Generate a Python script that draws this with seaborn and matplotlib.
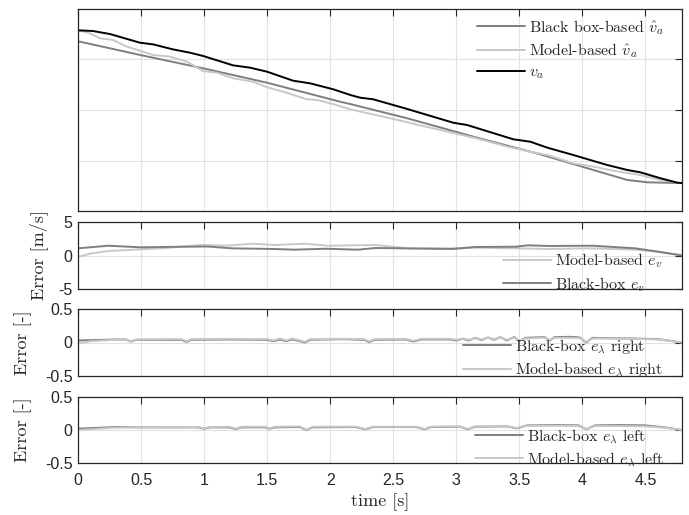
import matplotlib
matplotlib.use("Agg")
import matplotlib.pyplot as plt
import seaborn as sns
import numpy as np
from matplotlib.font_manager import FontProperties

# ---------------- data ----------------
t_va = [0.0, 0.016, 0.119, 0.254, 0.492, 0.595, 0.754, 0.889, 0.992, 1.23, 1.365, 1.5, 1.706,
        1.841, 2.024, 2.159, 2.238, 2.341, 2.611, 2.976, 3.087, 3.452, 3.587, 3.722, 3.929,
        4.198, 4.357, 4.46, 4.62, 4.754, 4.79]
v_a = [22.86, 22.88, 22.82, 22.52, 21.66, 21.5, 21.0, 20.67, 20.35, 19.42, 19.19, 18.79, 17.9,
       17.64, 17.05, 16.49, 16.22, 16.06, 15.1, 13.74, 13.51, 12.1, 11.86, 11.27, 10.54,
       9.55, 9.06, 8.83, 8.24, 7.8, 7.77]

t_bb = [0.0, 0.016, 0.492, 0.992, 1.5, 2.079, 2.159, 2.611, 3.135, 3.667, 4.087, 4.357, 4.516, 4.754, 4.79]
v_bb = [21.78, 21.76, 20.45, 19.13, 17.7, 15.82, 15.59, 14.18, 12.36, 10.61, 9.06, 8.07, 7.84, 7.77, 7.77]

t_mb = [0.0, 0.016, 0.095, 0.175, 0.278, 0.389, 0.492, 0.595, 0.73, 0.865, 0.992, 1.103, 1.23,
        1.389, 1.5, 1.627, 1.817, 1.897, 2.024, 2.159, 2.476, 2.873, 3.19, 3.405, 3.587, 3.722,
        3.929, 4.087, 4.246, 4.46, 4.595, 4.754, 4.79]
v_mb = [22.86, 22.85, 22.59, 22.1, 21.93, 21.27, 20.87, 20.45, 20.28, 19.78, 18.86, 18.69, 18.14,
        17.8, 17.25, 16.81, 16.06, 15.99, 15.59, 15.07, 14.18, 13.02, 12.1, 11.37, 10.87, 10.54,
        9.72, 9.39, 8.99, 8.56, 8.14, 7.8, 7.77]

t_ev_bb = [0, 0.24, 0.5, 0.77, 1.03, 1.22, 1.56, 1.72, 1.96, 2.22, 2.36, 2.97, 3.15, 3.47, 3.57,
           3.73, 4.08, 4.42, 4.6, 4.79]
ev_bb = [1.07, 1.46, 1.22, 1.3, 1.34, 1.07, 0.97, 0.87, 1.01, 0.87, 1.12, 0.97, 1.27, 1.31, 1.52,
         1.42, 1.46, 1.07, 0.57, 0.0]
t_ev_mb = [0, 0.11, 0.24, 0.5, 0.67, 0.98, 1.17, 1.38, 1.56, 1.8, 1.98, 2.36, 2.62, 2.97, 3.15,
           3.47, 3.73, 4.08, 4.42, 4.6, 4.79]
ev_mb = [-0.2, 0.33, 0.67, 0.93, 1.07, 1.57, 1.46, 1.76, 1.57, 1.76, 1.46, 1.57, 1.07, 1.07, 1.16,
         1.07, 0.97, 1.07, 0.87, 0.57, 0.05]

t_er = [0, 0.1, 0.3, 0.38, 0.42, 0.46, 0.7, 0.82, 0.86, 0.9, 1.2, 1.5, 1.55, 1.6, 1.65, 1.7, 1.76,
        1.8, 1.84, 2.1, 2.27, 2.31, 2.35, 2.6, 2.66, 2.72, 2.95, 3.0, 3.05, 3.1, 3.15, 3.2, 3.25,
        3.3, 3.35, 3.4, 3.46, 3.5, 3.55, 3.62, 3.7, 3.74, 3.78, 3.9, 3.98, 4.03, 4.08, 4.2, 4.4,
        4.6, 4.79]
er_bb = [0.03, 0.035, 0.045, 0.045, 0.015, 0.04, 0.04, 0.04, 0.01, 0.04, 0.045, 0.04, 0.02, 0.045,
         0.02, 0.045, 0.02, 0.0, 0.04, 0.05, 0.04, 0.005, 0.04, 0.045, 0.015, 0.045, 0.045, 0.03,
         0.055, 0.03, 0.07, 0.035, 0.075, 0.04, 0.08, 0.03, 0.08, 0.02, 0.07, 0.075, 0.08, 0.03,
         0.08, 0.085, 0.075, 0.0, 0.07, 0.065, 0.06, 0.05, 0.0]
er_mb = [-0.02, 0.02, 0.04, 0.045, 0.02, 0.045, 0.05, 0.05, 0.02, 0.05, 0.055, 0.05, 0.03, 0.06,
         0.03, 0.06, 0.03, 0.01, 0.05, 0.055, 0.05, 0.015, 0.05, 0.055, 0.025, 0.055, 0.055, 0.04,
         0.06, 0.04, 0.065, 0.045, 0.07, 0.05, 0.075, 0.04, 0.07, 0.03, 0.06, 0.065, 0.07, 0.04,
         0.07, 0.07, 0.065, 0.01, 0.06, 0.06, 0.055, 0.045, 0.0]

t_el = [0, 0.3, 0.5, 0.95, 1.0, 1.05, 1.2, 1.25, 1.3, 1.48, 1.52, 1.56, 1.76, 1.81, 1.86, 2.2,
        2.28, 2.34, 2.68, 2.75, 2.8, 3.03, 3.09, 3.15, 3.4, 3.48, 3.56, 3.8, 3.97, 4.03, 4.1,
        4.3, 4.5, 4.65, 4.79]
el_bb = [0.02, 0.045, 0.04, 0.04, 0.02, 0.04, 0.04, 0.015, 0.04, 0.04, 0.02, 0.04, 0.045, 0.0,
         0.04, 0.045, 0.01, 0.045, 0.045, 0.01, 0.045, 0.05, 0.01, 0.05, 0.055, 0.025, 0.07,
         0.075, 0.07, 0.01, 0.07, 0.075, 0.07, 0.04, 0.0]
el_mb = [0.0, 0.035, 0.04, 0.045, 0.025, 0.045, 0.05, 0.02, 0.05, 0.05, 0.025, 0.05, 0.055, 0.005,
         0.05, 0.05, 0.015, 0.05, 0.05, 0.015, 0.05, 0.055, 0.015, 0.055, 0.055, 0.03, 0.065,
         0.065, 0.06, 0.015, 0.06, 0.06, 0.055, 0.035, 0.0]

x_ticks = [0, 0.5, 1, 1.5, 2, 2.5, 3, 3.5, 4, 4.5]
x_ticklabels = ["0", "0.5", "1", "1.5", "2", "2.5", "3", "3.5", "4", "4.5"]

# ---------------- style ----------------
sns.set_style("white")
plt.rcParams["font.family"] = ["Liberation Sans", "DejaVu Sans"]
plt.rcParams["mathtext.fontset"] = "cm"
plt.rcParams["axes.unicode_minus"] = False

C_BLACK = "#000000"
C_DARK = "#7f7f7f"
C_LIGHT = "#c8c8c8"
LW = 1.4
SPINE = "#262626"
GRID = "#e2e2e2"

serif = FontProperties(family="cmr10", size=11.5)
serif_lab = FontProperties(family="cmr10", size=13)

fig = plt.figure(figsize=(6.89, 5.15), dpi=100)
L, W = 78 / 689, 604 / 689
ax1 = fig.add_axes([L, 1 - 211 / 515, W, 202 / 515])
ax2 = fig.add_axes([L, 1 - 289 / 515, W, 67 / 515])
ax3 = fig.add_axes([L, 1 - 376 / 515, W, 67 / 515])
ax4 = fig.add_axes([L, 1 - 463 / 515, W, 66 / 515])
axes = [ax1, ax2, ax3, ax4]


def line(ax, x, y, c, lab):
    sns.lineplot(x=x, y=y, ax=ax, color=c, lw=LW, label=lab, sort=False, estimator=None)


line(ax1, t_bb, v_bb, C_DARK, r"Black box-based $\hat{v}_a$")
line(ax1, t_mb, v_mb, C_LIGHT, r"Model-based $\hat{v}_a$")
line(ax1, t_va, v_a, C_BLACK, r"$v_a$")

line(ax2, t_ev_mb, ev_mb, C_LIGHT, r"Model-based $e_v$")
line(ax2, t_ev_bb, ev_bb, C_DARK, r"Black-box $e_v$")

line(ax3, t_er, er_bb, C_DARK, r"Black-box $e_\lambda$ right")
line(ax3, t_er, er_mb, C_LIGHT, r"Model-based $e_\lambda$ right")

line(ax4, t_el, el_bb, C_DARK, r"Black-box $e_\lambda$ left")
line(ax4, t_el, el_mb, C_LIGHT, r"Model-based $e_\lambda$ left")

ax1.set_ylim(5, 25)
ax1.set_yticks([10, 15, 20])
ax1.set_yticklabels([])
ax2.set_ylim(-5, 5)
ax2.set_yticks([-5, 0, 5])
ax2.set_yticklabels(["-5", "0", "5"])
for ax in (ax3, ax4):
    ax.set_ylim(-0.5, 0.5)
    ax.set_yticks([-0.5, 0, 0.5])
    ax.set_yticklabels(["-0.5", "0", "0.5"])

for ax in axes:
    ax.set_xlim(0, 4.79)
    ax.set_xticks(x_ticks)
    ax.grid(True, color=GRID, lw=0.8)
    ax.set_axisbelow(True)
    ax.tick_params(direction="in", top=True, right=True, length=5, width=0.8,
                   color=SPINE, labelsize=11.5, labelcolor="#262626", pad=4)
    for s in ax.spines.values():
        s.set_color(SPINE)
        s.set_linewidth(0.9)
    ax.set_xlabel("")
    ax.set_ylabel("")
for ax in (ax1, ax2, ax3):
    ax.set_xticklabels([])
ax4.set_xticklabels(x_ticklabels)
ax4.tick_params(axis="x", pad=7)

ax2.set_ylabel("Error [m/s]", fontproperties=serif_lab)
ax3.set_ylabel("Error [-]", fontproperties=serif_lab)
ax4.set_ylabel("Error [-]", fontproperties=serif_lab)
ax2.yaxis.set_label_coords(-0.05, 0.5)
ax3.yaxis.set_label_coords(-0.076, 0.5)
ax4.yaxis.set_label_coords(-0.076, 0.5)
ax4.set_xlabel("time [s]", fontproperties=serif_lab, labelpad=4)

leg_kw = dict(frameon=False, prop=serif, handlelength=3.0, handletextpad=0.25,
              labelspacing=0.3, borderpad=0, borderaxespad=0, loc="upper left")
ax1.legend(bbox_to_anchor=(0.6606, 0.955), **leg_kw)
ax2.legend(bbox_to_anchor=(0.7036, 0.56), **leg_kw)
ax3.legend(bbox_to_anchor=(0.6374, 0.575), **leg_kw)
ax4.legend(bbox_to_anchor=(0.657, 0.54), **leg_kw)

fig.savefig("out.png", dpi=100)
